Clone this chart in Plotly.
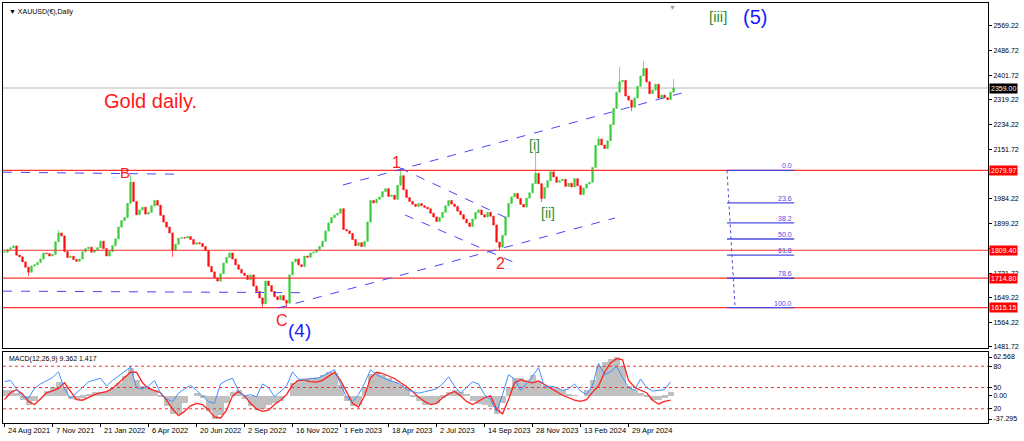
import plotly.graph_objects as go

FONT = "Liberation Sans, Arial, sans-serif"

# ---------------- price data (one value every ~3 trading days) ----------------
closes = [
    1803,1812,1818,1824,1793,1787,1770,1752,1735,1756,
    1760,1768,1780,1800,1798,1790,1795,1838,1868,1858,
    1805,1785,1789,1778,1772,1780,1804,1815,1820,1803,
    1810,1818,1840,1815,1790,1805,1825,1848,1888,1910,
    1920,1968,2040,1975,1930,1946,1955,1932,1938,1960,
    1978,1962,1928,1905,1888,1868,1810,1830,1850,1852,
    1851,1856,1846,1830,1835,1832,1822,1808,1755,1736,
    1715,1705,1730,1766,1785,1800,1780,1760,1745,1732,
    1724,1710,1726,1688,1670,1648,1628,1705,1690,1670,
    1652,1642,1656,1640,1630,1726,1770,1780,1760,1754,
    1790,1786,1800,1803,1812,1822,1840,1875,1902,1920,
    1929,1935,1950,1880,1875,1866,1846,1825,1835,1822,
    1840,1905,1978,1970,1982,1990,2008,2018,1992,1996,
    1982,2030,2062,2014,1988,1975,1965,1958,1968,1960,
    1955,1950,1935,1922,1907,1920,1938,1960,1978,1966,
    1958,1942,1930,1915,1902,1890,1915,1937,1946,1930,
    1922,1938,1925,1895,1837,1820,1860,1922,1968,1990,
    2002,1985,1965,1956,1986,2004,2035,2070,2035,1985,
    2022,2045,2075,2058,2040,2045,2050,2026,2036,2024,
    2052,2028,1998,2020,2034,2040,2090,2165,2186,2166,
    2154,2180,2235,2290,2345,2380,2385,2332,2318,2294,
    2325,2365,2400,2425,2380,2340,2352,2372,2325,2335,
    2326,2320,2345,2359,
]
# wick extremes (bar index -> price)
spike_hi_idx = [18, 42, 132, 177, 198, 205, 213, 223]
spike_hi_val = [1877, 2064, 2081, 2149, 2195, 2431, 2450, 2390]
spike_lo_idx = [8, 56, 86, 94, 165, 179, 209]
spike_lo_val = [1722, 1787, 1614, 1616, 1810, 1973, 2280]

# ---------------- axis labels ----------------
price_ticks = [2569.22, 2486.72, 2401.72, 2319.22, 2234.22, 2151.72, 2066.72,
               1984.22, 1899.22, 1816.72, 1731.72, 1649.22, 1564.22, 1481.72]
hidden_ticks = [2066.72, 1816.72]   # covered by the level tags in the reference
date_labels = ["24 Aug 2021", "7 Nov 2021", "21 Jan 2022", "6 Apr 2022", "20 Jun 2022",
               "2 Sep 2022", "16 Nov 2022", "1 Feb 2023", "18 Apr 2023", "2 Jul 2023",
               "14 Sep 2023", "28 Nov 2023", "13 Feb 2024", "29 Apr 2024"]
date_tick_idx = [0, 16, 32, 48, 64, 80, 96, 112, 128, 144, 160, 176, 192, 208]

# ---------------- levels & drawings ----------------
red_levels = [2079.97, 1809.40, 1714.80, 1615.15]
red_level_text = ["2079.97", "1809.40", "1714.80", "1615.15"]
bid_price = 2359.00

fib_ratios = [0.0, 23.6, 38.2, 50.0, 61.8, 78.6, 100.0]
fib_high, fib_low = 2079.97, 1615.15
fib_x = [240.8, 263.2]
fib_vline_x = [240.8, 243.5]

# dashed blue trend lines: (x0, y0, x1, y1) in bar index / price
trend_lines = [
    (112.8, 2030.5, 225.8, 2342.2),   # upper channel
    (91.2, 1613.8, 203.5, 1918.7),    # lower channel
    (131.8, 2088.0, 168.2, 1915.0),   # falling channel top
    (133.5, 1928.9, 171.8, 1759.5),   # falling channel bottom
    (-0.5, 2074.0, 58.5, 2067.0),     # B level
    (-0.5, 1671.0, 100.2, 1665.6),    # low level
]

# wave labels: text, bar index, price, colour, size
wave_labels = [
    ("Gold daily.", 48.8, 2315, "#ff1a1a", 20),
    ("B", 40.2, 2074, "#ff1a1a", 15),
    ("C", 92.5, 1573, "#ff1a1a", 16),
    ("(4)", 98.2, 1536, "#1a1aff", 19),
    ("1", 130.8, 2108, "#ff1a1a", 16),
    ("2", 165.2, 1763, "#ff1a1a", 16),
    ("[i]", 176.5, 2166, "#2f8f2f", 14),
    ("[ii]", 181.2, 1936, "#2f8f2f", 14),
    ("[iii]", 237.8, 2600, "#2f8f2f", 15),
    ("(5)", 250.2, 2600, "#1a1aff", 20),
]

# ---------------- MACD panel (one value every 2 bars) ----------------
macd_hist = [
    9,10,5,-7,-14,-9,0,8,15,23,
    15,-5,-7,-3,2,6,7,8,12,21,
    32,45,25,16,13,9,-2,-16,-29,-30,
    -12,0,5,-3,-25,-37,-31,-12,7,9,
    -5,-16,-23,-21,-14,-12,-9,0,21,26,
    28,29,30,33,38,37,17,-9,-17,-14,
    12,35,38,33,28,22,17,12,-2,-9,
    -14,-13,-12,-3,7,10,7,2,-8,-13,
    -14,-18,-29,-12,14,28,29,25,33,23,
    16,14,13,10,3,1,0,9,25,48,
    54,60,62,48,16,10,5,-2,-6,-7,
    -3,6,
]
macd_signal = [
    -6,5,10,3,-9,-14,-5,5,8,12,
    21,7,-6,-7,-2,2,5,7,12,21,
    30,38,38,21,12,9,5,-7,-21,-32,
    -25,-16,-12,-14,-23,-34,-36,-23,0,7,
    0,-12,-21,-25,-23,-14,-7,2,18,25,
    25,23,22,25,32,38,25,7,-12,-18,
    0,29,38,36,32,28,21,15,7,-2,
    -9,-14,-12,-3,3,7,0,-9,-14,-9,
    -3,0,-21,-29,-6,21,26,23,21,24,
    18,13,7,1,-3,-7,-9,-6,6,16,
    38,53,60,58,25,14,9,5,-7,-13,
    -9,-7,
]
osc_line = [
    58,60,48,37,35,49,55,60,64,72,
    48,35,42,50,58,60,63,52,60,66,
    72,79,50,48,52,60,42,34,30,42,
    48,53,46,38,30,28,55,60,63,45,
    38,40,37,55,50,37,45,52,72,62,
    60,63,62,66,70,75,55,36,30,40,
    56,75,68,64,60,58,54,47,44,42,
    44,46,48,55,65,52,42,50,58,55,
    40,33,16,40,68,62,46,56,66,78,
    50,52,50,46,48,55,45,40,53,84,
    68,72,80,64,50,46,62,50,45,46,
    47,58,
]
osc_levels = [80, 50, 20]
macd_ticks = [62.568, 0.0, -37.295]
macd_tick_text = ["62.568", "0.00", "-37.295"]

# ---------------- build ----------------
n = len(closes)
idx = list(range(n))
opens = [closes[0]] + closes[:-1]
highs = [max(o, c) for o, c in zip(opens, closes)]
lows = [min(o, c) for o, c in zip(opens, closes)]
for i, v in zip(spike_hi_idx, spike_hi_val):
    highs[i] = max(highs[i], v)
for i, v in zip(spike_lo_idx, spike_lo_val):
    lows[i] = min(lows[i], v)
macd_x = list(range(0, 2 * len(macd_hist), 2))

fig = go.Figure()
fig.add_trace(go.Candlestick(
    x=idx, open=opens, high=highs, low=lows, close=closes,
    increasing=dict(line=dict(color="#3ccf3c", width=0.7), fillcolor="#3ccf3c"),
    decreasing=dict(line=dict(color="#ff1010", width=0.7), fillcolor="#ff1010"),
    whiskerwidth=0, showlegend=False, hoverinfo="skip", xaxis="x", yaxis="y"))

fig.add_trace(go.Bar(x=macd_x, y=macd_hist, width=2, marker=dict(color="#c0c0c0", line=dict(width=0)),
                     showlegend=False, hoverinfo="skip", xaxis="x2", yaxis="y2"))
fig.add_trace(go.Scatter(x=macd_x, y=macd_signal, mode="lines", line=dict(color="#ff2020", width=1.3),
                         showlegend=False, hoverinfo="skip", xaxis="x2", yaxis="y2"))
fig.add_trace(go.Scatter(x=macd_x, y=osc_line, mode="lines", line=dict(color="#3d8fff", width=1),
                         showlegend=False, hoverinfo="skip", xaxis="x2", yaxis="y3"))

shapes = []
# bid line
shapes.append(dict(type="line", xref="x domain", yref="y", x0=0, x1=1, y0=bid_price, y1=bid_price,
                   line=dict(color="#cfcfcf", width=1.5), layer="below"))
for lv in red_levels:
    shapes.append(dict(type="line", xref="x domain", yref="y", x0=0, x1=1, y0=lv, y1=lv,
                       line=dict(color="#ff3030", width=1.2)))
for (x0, y0, x1, y1) in trend_lines:
    shapes.append(dict(type="line", xref="x", yref="y", x0=x0, y0=y0, x1=x1, y1=y1,
                       line=dict(color="#4646ff", width=1, dash="dash")))
fib_prices = [fib_high - r / 100.0 * (fib_high - fib_low) for r in fib_ratios]
for fp in fib_prices:
    shapes.append(dict(type="line", xref="x", yref="y", x0=fib_x[0], x1=fib_x[1], y0=fp, y1=fp,
                       line=dict(color="#4b4be0", width=1.3)))
shapes.append(dict(type="line", xref="x", yref="y", x0=fib_vline_x[0], x1=fib_vline_x[1],
                   y0=fib_high, y1=fib_low, line=dict(color="#4b4be0", width=1, dash="dot")))
for lv in osc_levels:
    shapes.append(dict(type="line", xref="x2 domain", yref="y3", x0=0, x1=1, y0=lv, y1=lv,
                       line=dict(color="#ff3030", width=1, dash="dot")))

ann = []
for t, xi, yp, col, sz in wave_labels:
    ann.append(dict(text=t, x=xi, y=yp, xref="x", yref="y", showarrow=False,
                    font=dict(family=FONT, size=sz, color=col)))
for r, fp in zip(fib_ratios, fib_prices):
    ann.append(dict(text=f"{r:.1f}", x=fib_x[1], y=fp, xref="x", yref="y", showarrow=False,
                    xanchor="right", yanchor="bottom", yshift=-1,
                    font=dict(family=FONT, size=7, color="#4b4be0")))
for lv, txt in zip(red_levels, red_level_text):
    ann.append(dict(text=txt, x=1, y=lv, xref="paper", yref="y", showarrow=False, xanchor="left",
                    xshift=1, bgcolor="#ff0000", borderpad=1,
                    font=dict(family=FONT, size=7, color="white")))
ann.append(dict(text=f"{bid_price:.2f}", x=1, y=bid_price, xref="paper", yref="y", showarrow=False,
                xanchor="left", xshift=1, bgcolor="#000000", borderpad=1,
                font=dict(family=FONT, size=7, color="white")))
for lbl, xi in zip(date_labels, date_tick_idx):
    ann.append(dict(text=lbl, x=xi, y=-0.019, xref="x2", yref="paper", showarrow=False,
                    xanchor="left", yanchor="middle", xshift=1,
                    font=dict(family=FONT, size=7.5, color="#000")))
ann.append(dict(text="▼ XAUUSD(€),Daily", x=0, y=1, xref="paper", yref="paper", showarrow=False,
                xanchor="left", yanchor="top", xshift=4, yshift=-3,
                font=dict(family=FONT, size=7, color="#000")))
ann.append(dict(text="MACD(12,26,9) 9.362 1.417", x=0, y=1, xref="x2 domain", yref="y2 domain",
                showarrow=False, xanchor="left", yanchor="top", xshift=4, yshift=-1,
                font=dict(family=FONT, size=7, color="#000")))
ann.append(dict(text="▼", x=222.5, y=1, xref="x", yref="paper", showarrow=False, yanchor="top",
                yshift=1, font=dict(family=FONT, size=7, color="#a0a0a0")))

xr = [-0.5, 327.8]
axis_common = dict(showgrid=False, zeroline=False, showline=True, mirror=True,
                   linecolor="#000", linewidth=1, fixedrange=True)
fig.update_layout(
    width=1024, height=441,
    margin=dict(l=3, r=36, t=3, b=18),
    paper_bgcolor="white", plot_bgcolor="white",
    bargap=0, showlegend=False,
    font=dict(family=FONT, size=7, color="#000"),
    xaxis=dict(domain=[0, 1], anchor="y", range=xr, showticklabels=False, ticks="",
               rangeslider=dict(visible=False), **axis_common),
    yaxis=dict(domain=[0.1786, 1], anchor="x", side="right", range=[1478.3, 2647.1],
               tickvals=price_ticks,
               ticktext=["" if v in hidden_ticks else f"{v:.2f}" for v in price_ticks],
               ticks="outside", ticklen=3, tickcolor="#000",
               tickfont=dict(family=FONT, size=7, color="#000"), **axis_common),
    xaxis2=dict(domain=[0, 1], anchor="y2", range=xr, tickvals=date_tick_idx, showticklabels=False,
                ticks="outside", ticklen=3, tickcolor="#000", **axis_common),
    yaxis2=dict(domain=[0, 0.169], anchor="x2", side="right", range=[-43.7, 70.6],
                tickvals=macd_ticks, ticktext=macd_tick_text, ticks="outside", ticklen=3,
                tickcolor="#000", tickfont=dict(family=FONT, size=7, color="#000"), **axis_common),
    yaxis3=dict(overlaying="y2", anchor="x2", side="right", range=[0, 100],
                tickvals=osc_levels, ticktext=[str(v) for v in osc_levels], ticks="outside",
                ticklen=3, tickcolor="#000", showgrid=False, zeroline=False, showline=False,
                tickfont=dict(family=FONT, size=7, color="#000"), fixedrange=True),
    shapes=shapes, annotations=ann,
)

fig.write_html("out.html", config={"displayModeBar": False},
               post_script="document.body.style.margin='0';document.body.style.overflow='hidden';")
